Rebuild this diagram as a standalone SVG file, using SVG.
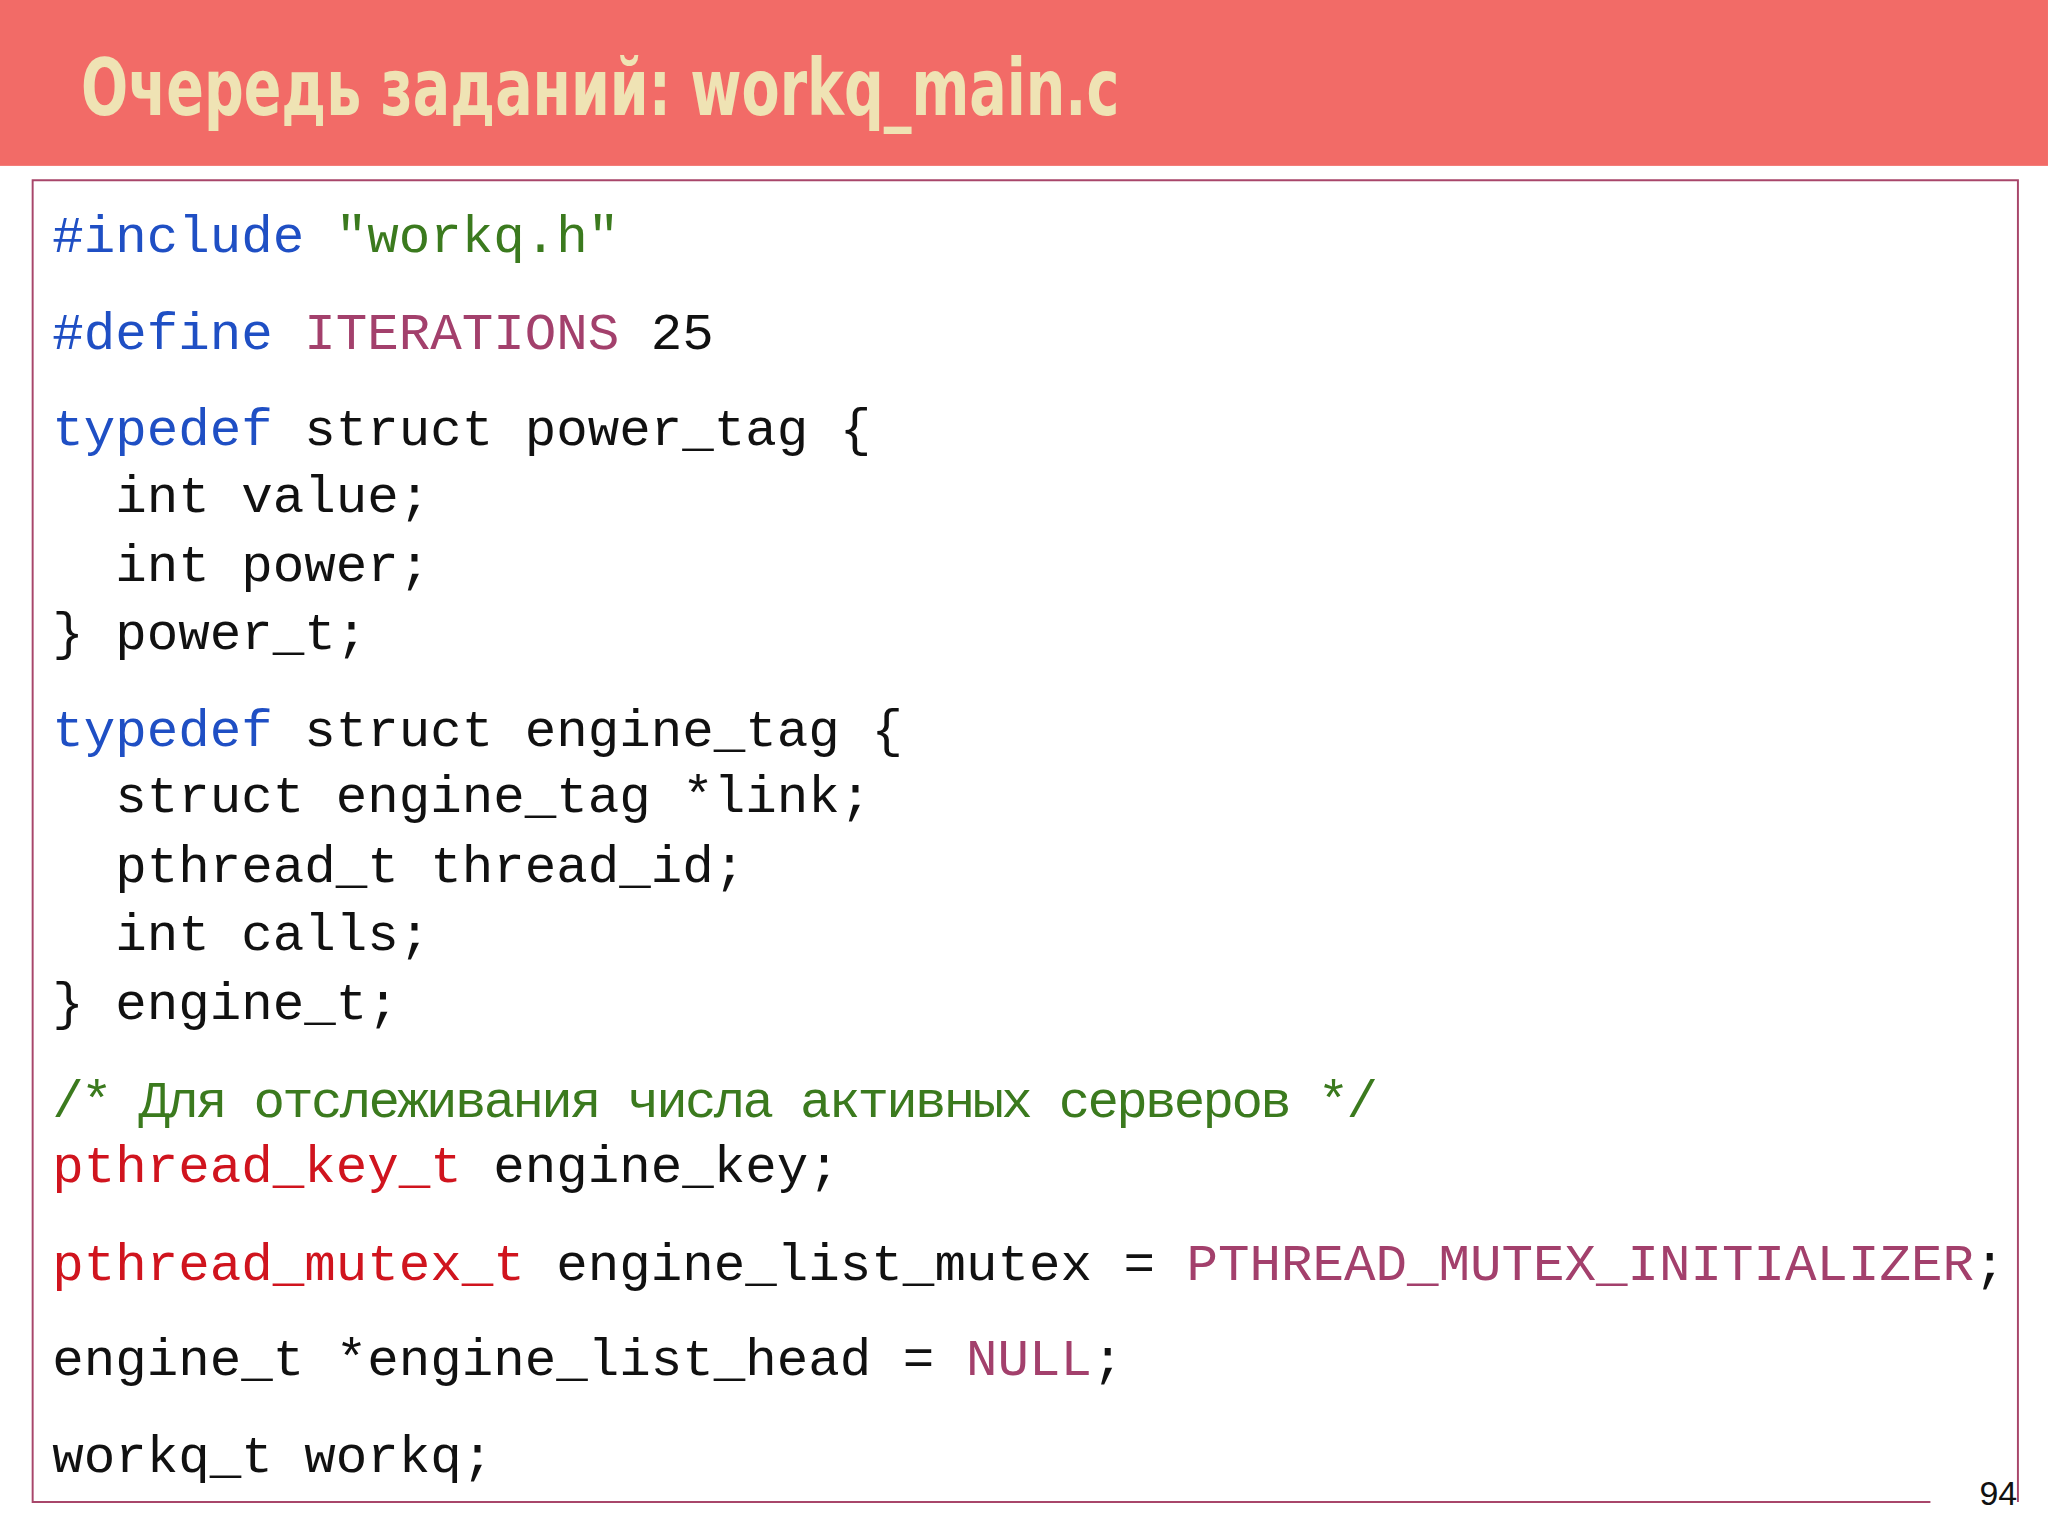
<svg xmlns="http://www.w3.org/2000/svg" width="2048" height="1536" viewBox="0 0 2048 1536">
<style>
.c{font-family:"Liberation Mono","DejaVu Sans Mono",monospace;font-size:40.2px;fill:#111;white-space:pre}
.k{fill:#1f4fc4}.s{fill:#3b7a1e}.m{fill:#a3406c}.t{fill:#d0141e}.cm{fill:#3b7a1e}
</style>
<rect width="2048" height="1536" fill="#fff"/>
<g transform="scale(1.3061)">
<g id="header">
<rect x="0" y="0" width="1568" height="127" fill="#f26b67"/>
<text x="62" y="88" font-family="'DejaVu Sans Condensed','DejaVu Sans',sans-serif" font-stretch="condensed" font-weight="bold" font-size="60" fill="#efe3b4" textLength="795" lengthAdjust="spacingAndGlyphs">Очередь заданий: workq_main.c</text>
</g>
<g id="codebox">
<path d="M1478 1150 H25 V138 H1545 V1150" fill="none" stroke="#a8466a" stroke-width="1.5"/>
<text x="1530" y="1152" font-family="'Liberation Sans',sans-serif" font-size="26" fill="#111" text-anchor="middle">94</text>
<text class="c" x="40" y="193"><tspan class="k">#include</tspan> <tspan class="s">"workq.h"</tspan></text>
<text class="c" x="40" y="267"><tspan class="k">#define</tspan> <tspan class="m">ITERATIONS</tspan> 25</text>
<text class="c" x="40" y="341"><tspan class="k">typedef</tspan> struct power_tag {</text>
<text class="c" x="40" y="392">  int value;</text>
<text class="c" x="40" y="445">  int power;</text>
<text class="c" x="40" y="497">} power_t;</text>
<text class="c" x="40" y="571"><tspan class="k">typedef</tspan> struct engine_tag {</text>
<text class="c" x="40" y="622">  struct engine_tag *link;</text>
<text class="c" x="40" y="675">  pthread_t thread_id;</text>
<text class="c" x="40" y="727">  int calls;</text>
<text class="c" x="40" y="780">} engine_t;</text>
<text class="c cm" x="40" y="855" font-family="'Liberation Serif','DejaVu Serif',serif" textLength="1015" lengthAdjust="spacing">/* Для отслеживания числа активных серверов */</text>
<text class="c" x="40" y="905"><tspan class="t">pthread_key_t</tspan> engine_key;</text>
<text class="c" x="40" y="980"><tspan class="t">pthread_mutex_t</tspan> engine_list_mutex = <tspan class="m">PTHREAD_MUTEX_INITIALIZER</tspan>;</text>
<text class="c" x="40" y="1053">engine_t *engine_list_head = <tspan class="m">NULL</tspan>;</text>
<text class="c" x="40" y="1127">workq_t workq;</text>
</g>
</g>
</svg>
